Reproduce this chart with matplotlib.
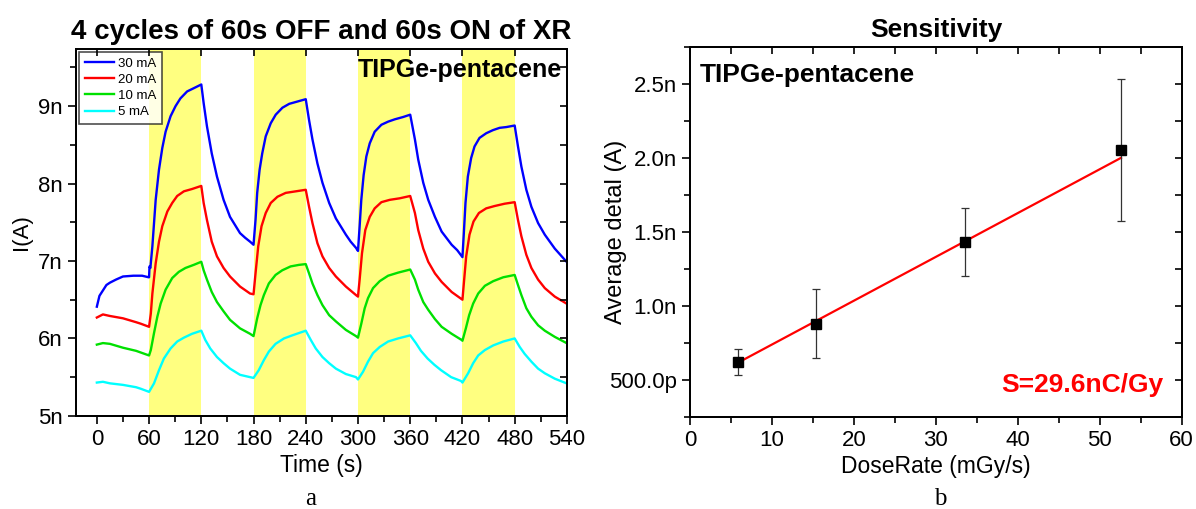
import matplotlib

matplotlib.use("Agg")

import matplotlib.pyplot as plt
from matplotlib.ticker import MultipleLocator, FixedLocator, FixedFormatter

plt.rcParams["font.family"] = ["Liberation Sans", "DejaVu Sans"]

# ---- panel a: photocurrent under 4 on/off cycles (time in s, current in nA)
T_30 = [0, 3, 7, 11, 15, 22, 30, 42, 52, 59.5, 60.0, 60.5, 61.5, 63.8, 67.6, 71.4, 75.2, 79, 84.7, 90.4,
        96, 103.7, 111, 120, 122.7, 126.5, 132, 138, 145.6, 153, 164.5, 170.4, 176, 180,
        182.3, 184.2, 187, 190, 194, 199.8, 205.5, 213.2, 221, 230.5, 240,
        243.8, 247.7, 253.4, 259.2, 266.9, 274.6, 286.1, 291.6, 297.7, 300,
        301.9, 303.8, 306.5, 309.6, 313.5, 319.2, 326.9, 334.6, 342.3, 351.9, 360,
        365.4, 369.2, 375, 380.7, 388.4, 396.1, 407.6, 414, 420,
        421.6, 423.5, 426.2, 430, 433.9, 439.6, 447.3, 455, 462.7, 470.4, 480,
        483.8, 487.7, 493.4, 499.2, 506.9, 514.6, 526.1, 539.6]
I_30 = [6.41, 6.55, 6.62, 6.69, 6.72, 6.76, 6.80, 6.81, 6.81, 6.79, 6.79, 6.93, 6.91, 7.19, 7.79, 8.18, 8.46, 8.67, 8.87, 9.00,
        9.10, 9.19, 9.23, 9.28, 9.04, 8.74, 8.39, 8.09, 7.79, 7.57, 7.36, 7.30, 7.25, 7.21,
        7.53, 7.88, 8.18, 8.39, 8.61, 8.78, 8.89, 8.98, 9.03, 9.06, 9.09,
        8.82, 8.57, 8.26, 8.01, 7.75, 7.55, 7.34, 7.25, 7.17, 7.13,
        7.45, 7.79, 8.11, 8.35, 8.52, 8.67, 8.76, 8.80, 8.83, 8.86, 8.89,
        8.57, 8.31, 8.01, 7.79, 7.57, 7.38, 7.21, 7.14, 7.05,
        7.36, 7.75, 8.09, 8.33, 8.48, 8.59, 8.65, 8.69, 8.72, 8.73, 8.75,
        8.48, 8.22, 7.92, 7.70, 7.49, 7.34, 7.16, 6.99]

T_20 = [0, 7, 15, 30, 45, 50.5, 60, 62, 63.8, 67.6, 71.4, 75.2, 81, 86.6, 92.3, 100, 109.4, 120,
        122.7, 126.5, 132, 138, 145.6, 153, 164.5, 176, 180,
        182.3, 185.4, 189.2, 194, 199.8, 207.5, 217, 228.6, 240,
        243.8, 247.7, 253.4, 259.2, 266.9, 274.6, 286.1, 297.7, 300,
        301.9, 304.6, 308.4, 313.5, 319.2, 326.9, 336.5, 348, 360,
        365.4, 369.2, 375, 380.7, 388.4, 396.1, 407.6, 420,
        421.6, 424.3, 428.1, 432.7, 438.9, 447.3, 456.9, 468.5, 480,
        483.8, 487.7, 493.4, 499.2, 506.9, 514.6, 526.1, 539.6]
I_20 = [6.27, 6.31, 6.29, 6.26, 6.21, 6.19, 6.15, 6.32, 6.58, 6.97, 7.25, 7.45, 7.64, 7.75, 7.84, 7.90, 7.93, 7.97,
        7.75, 7.53, 7.25, 7.06, 6.91, 6.80, 6.67, 6.58, 6.57,
        6.84, 7.19, 7.45, 7.62, 7.75, 7.83, 7.88, 7.90, 7.92,
        7.70, 7.49, 7.23, 7.06, 6.91, 6.80, 6.67, 6.56, 6.54,
        6.76, 7.10, 7.40, 7.57, 7.68, 7.76, 7.79, 7.81, 7.84,
        7.62, 7.40, 7.16, 6.99, 6.84, 6.73, 6.60, 6.50,
        6.71, 7.06, 7.34, 7.51, 7.62, 7.68, 7.71, 7.74, 7.76,
        7.53, 7.32, 7.08, 6.91, 6.76, 6.65, 6.54, 6.45]

T_10 = [0, 7, 15, 30, 45, 60, 62, 65.7, 69.5, 73.3, 79, 86.6, 94.2, 101.8, 111.3, 120,
        122.7, 126.5, 132, 138, 145.6, 153, 164.5, 176, 180,
        184.2, 188, 191.9, 197.6, 205.3, 213, 222.6, 232.2, 240,
        243.8, 247.7, 253.4, 259.2, 266.9, 274.6, 286.1, 297.7, 300,
        303.8, 307.7, 311.5, 317.3, 325, 334.6, 346.1, 360,
        365.4, 369.2, 375, 380.7, 388.4, 396.1, 407.6, 419.1, 420,
        423.9, 427.7, 432.3, 438.1, 445.8, 455.4, 466.9, 480,
        483.8, 487.7, 493.4, 499.2, 506.9, 514.6, 526.1, 539.6]
I_10 = [5.92, 5.94, 5.93, 5.88, 5.84, 5.78, 5.85, 6.07, 6.28, 6.45, 6.63, 6.78, 6.86, 6.91, 6.95, 6.99,
        6.88, 6.76, 6.60, 6.47, 6.35, 6.24, 6.13, 6.06, 6.03,
        6.26, 6.43, 6.56, 6.71, 6.82, 6.88, 6.93, 6.95, 6.96,
        6.84, 6.71, 6.56, 6.43, 6.30, 6.22, 6.11, 6.03, 6.01,
        6.19, 6.39, 6.52, 6.65, 6.74, 6.81, 6.85, 6.89,
        6.76, 6.63, 6.47, 6.37, 6.25, 6.15, 6.06, 5.98, 5.97,
        6.13, 6.30, 6.45, 6.58, 6.68, 6.74, 6.79, 6.82,
        6.69, 6.56, 6.39, 6.28, 6.17, 6.10, 6.02, 5.94]

T_5 = [0, 7, 15, 30, 45, 50.5, 60, 65.7, 71.4, 77, 84.7, 92.3, 100, 109.4, 120,
       124.6, 130.3, 138, 145.6, 153, 164.5, 176, 180,
       186, 191.9, 197.6, 205.3, 215, 224.6, 240,
       245.8, 251.5, 259.2, 266.9, 274.6, 286.1, 297.7, 300,
       305.8, 311.5, 317.3, 325, 334.6, 346.1, 360,
       366.5, 372.3, 380, 387.7, 395.4, 407, 418.4, 420,
       426.5, 432.3, 438.1, 445.8, 455.4, 466.9, 480,
       485.8, 491.5, 499.2, 506.9, 514.6, 526.1, 539.6]
I_5 = [5.43, 5.44, 5.42, 5.40, 5.37, 5.35, 5.31, 5.42, 5.59, 5.74, 5.87, 5.96, 6.01, 6.06, 6.10,
       5.98, 5.87, 5.76, 5.68, 5.61, 5.53, 5.50, 5.49,
       5.59, 5.72, 5.83, 5.93, 6.00, 6.04, 6.10,
       5.98, 5.87, 5.76, 5.68, 5.61, 5.54, 5.50, 5.47,
       5.57, 5.70, 5.81, 5.89, 5.96, 6.00, 6.04,
       5.94, 5.84, 5.74, 5.66, 5.59, 5.50, 5.45, 5.43,
       5.55, 5.68, 5.78, 5.85, 5.91, 5.96, 6.00,
       5.89, 5.80, 5.70, 5.61, 5.55, 5.48, 5.42]

SERIES = [
    ("30 mA", T_30, I_30, "#0000ff"),
    ("20 mA", T_20, I_20, "#ff0000"),
    ("10 mA", T_10, I_10, "#00e000"),
    ("5 mA", T_5, I_5, "#00ffff"),
]
XR_ON = [(60, 120), (180, 240), (300, 360), (420, 480)]

# ---- panel b: sensitivity (dose rate in mGy/s, delta current in nA)
DOSE_RATE = [5.8, 15.4, 33.6, 52.6]
DELTA_I = [0.62, 0.88, 1.43, 2.05]
DELTA_ERR = [0.09, 0.235, 0.23, 0.48]
FIT_SLOPE = 0.0296
FIT_INTERCEPT = 0.443

SERIF = ["Liberation Serif", "DejaVu Serif"]


def style_axes(ax, xstep, ystep):
    ax.tick_params(which="both", direction="out", labelsize=16, width=1.2)
    ax.tick_params(which="major", length=6)
    ax.tick_params(which="minor", length=4)
    for spine in ax.spines.values():
        spine.set_linewidth(1.2)
    # mirrored inward ticks on top and right
    top = ax.twiny()
    top.set_xlim(ax.get_xlim())
    top.xaxis.set_major_locator(MultipleLocator(xstep))
    top.tick_params(axis="x", direction="in", length=5, width=1.2, labeltop=False)
    right = ax.twinx()
    right.set_ylim(ax.get_ylim())
    right.yaxis.set_major_locator(MultipleLocator(ystep))
    right.tick_params(axis="y", direction="in", length=5, width=1.2, labelright=False)
    for extra in (top, right):
        for spine in extra.spines.values():
            spine.set_linewidth(1.2)


def main():
    fig = plt.figure(figsize=(11.96, 5.09), dpi=100)
    fig.patch.set_facecolor("white")

    # panel a
    ax = fig.add_axes([0.0635, 0.183, 0.4105, 0.721])
    for start, stop in XR_ON:
        ax.axvspan(start, stop, color="#ffff80", lw=0, zorder=0)
    for label, t, cur, color in SERIES:
        ax.plot(t, cur, color=color, lw=1.7, label=label, zorder=2)
    ax.set_xlim(-24, 540)
    ax.set_ylim(5, 9.74)
    ax.xaxis.set_major_locator(MultipleLocator(60))
    ax.xaxis.set_minor_locator(MultipleLocator(30))
    ax.yaxis.set_major_locator(FixedLocator([5, 6, 7, 8, 9]))
    ax.yaxis.set_major_formatter(FixedFormatter(["5n", "6n", "7n", "8n", "9n"]))
    ax.yaxis.set_minor_locator(MultipleLocator(0.5))
    ax.set_xlabel("Time (s)", fontsize=16.5, labelpad=3)
    ax.set_ylabel("I(A)", fontsize=16, labelpad=4)
    ax.set_title("4 cycles of 60s OFF and 60s ON of XR", fontsize=20, fontweight="bold", pad=7)
    ax.text(0.99, 0.975, "TIPGe-pentacene", transform=ax.transAxes, ha="right", va="top",
            fontsize=18, fontweight="bold", zorder=5)
    leg = ax.legend(loc="upper left", fontsize=9.5, frameon=True, fancybox=False, shadow=False,
                    borderpad=0.45, handlelength=2.2, handletextpad=0.3, labelspacing=0.3,
                    borderaxespad=0.2)
    leg.get_frame().set_edgecolor("#222222")
    leg.get_frame().set_linewidth(1.2)
    style_axes(ax, 60, 0.5)
    fig.text(0.26, 0.008, "a", fontsize=18, family=SERIF, ha="center")

    # panel b
    bx = fig.add_axes([0.577, 0.181, 0.411, 0.727])
    fit_x = [DOSE_RATE[0], DOSE_RATE[-1]]
    fit_y = [FIT_SLOPE * x + FIT_INTERCEPT for x in fit_x]
    bx.plot(fit_x, fit_y, color="#ff0000", lw=1.6, zorder=2)
    bx.errorbar(DOSE_RATE, DELTA_I, yerr=DELTA_ERR, fmt="s", color="black", ms=6.5,
                ecolor="#333333", elinewidth=0.9, capsize=3, capthick=0.9, zorder=3)
    bx.set_xlim(0, 60)
    bx.set_ylim(0.25, 2.75)
    bx.xaxis.set_major_locator(MultipleLocator(10))
    bx.xaxis.set_minor_locator(MultipleLocator(5))
    bx.yaxis.set_major_locator(FixedLocator([0.5, 1.0, 1.5, 2.0, 2.5]))
    bx.yaxis.set_major_formatter(FixedFormatter(["500.0p", "1.0n", "1.5n", "2.0n", "2.5n"]))
    bx.yaxis.set_minor_locator(MultipleLocator(0.25))
    bx.set_xlabel("DoseRate (mGy/s)", fontsize=16.5, labelpad=3)
    bx.set_ylabel("Average detal (A)", fontsize=17)
    bx.yaxis.set_label_coords(-0.128, 0.5)
    bx.set_title("Sensitivity", fontsize=19, fontweight="bold", pad=7)
    bx.text(0.02, 0.955, "TIPGe-pentacene", transform=bx.transAxes, ha="left", va="top",
            fontsize=19, fontweight="bold")
    bx.text(0.962, 0.055, "S=29.6nC/Gy", transform=bx.transAxes, ha="right", va="bottom",
            fontsize=19, fontweight="bold", color="#ff0000")
    style_axes(bx, 5, 0.25)
    fig.text(0.786, 0.008, "b", fontsize=18, family=SERIF, ha="center")

    fig.savefig("out.png", dpi=100, facecolor="white")
    plt.close(fig)


if __name__ == "__main__":
    main()
